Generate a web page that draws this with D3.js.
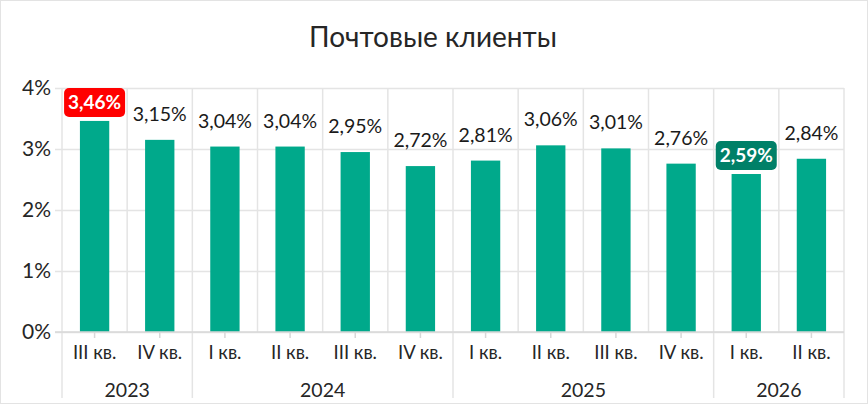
<!DOCTYPE html>
<html>
<head>
<meta charset="utf-8">
<script src="https://cdn.jsdelivr.net/npm/d3@7"></script>
<style>
  body { margin: 0; background: #fff; }
  svg { font-family: "Lato", "Inter", sans-serif; }
</style>
</head>
<body>
<svg id="chart"></svg>
<script>
const quarters = ["III кв.", "IV кв.", "I кв.", "II кв.", "III кв.", "IV кв.", "I кв.", "II кв.", "III кв.", "IV кв.", "I кв.", "II кв."];
const years = ["2023", "2023", "2024", "2024", "2024", "2024", "2025", "2025", "2025", "2025", "2026", "2026"];
const values = [3.46, 3.15, 3.04, 3.04, 2.95, 2.72, 2.81, 3.06, 3.01, 2.76, 2.59, 2.84];
const yTicks = [0, 1, 2, 3, 4];

const width = 868, height = 404;
const margin = {top: 88, right: 24, bottom: 72, left: 62};

const svg = d3.select("#chart")
    .attr("width", width)
    .attr("height", height);

// outer frame
svg.append("rect")
    .attr("x", 0.5).attr("y", 0.5)
    .attr("width", width - 1).attr("height", height - 1)
    .attr("fill", "none")
    .attr("stroke", "#e3e3e3");

const x = d3.scaleBand()
    .domain(d3.range(values.length))
    .range([margin.left, width - margin.right])
    .paddingInner(0.55)
    .paddingOuter(0.275);

const y = d3.scaleLinear()
    .domain([0, 4])
    .range([height - margin.bottom, margin.top]);

const step = x.step();
const left = margin.left, right = width - margin.right;
const base = y(0);

svg.append("text")
    .attr("x", width / 2 - 1)
    .attr("y", 47)
    .attr("text-anchor", "middle")
    .attr("font-size", "28px")
    .attr("fill", "#262626")
    .text("Почтовые клиенты");

// horizontal grid + y labels
svg.append("g")
    .attr("transform", "translate(" + left + ",0)")
    .call(d3.axisLeft(y).tickValues(yTicks).tickSize(-(right - left)).tickPadding(6).tickFormat(d => d + "%"))
    .call(g => g.select(".domain").remove())
    .call(g => g.selectAll(".tick line").attr("stroke", "#e4e4e4").attr("stroke-width", 1.5).attr("x1", -7))
    .call(g => g.selectAll(".tick text").attr("font-size", "21px").attr("fill", "#262626").attr("x", -11).attr("font-family", "Lato, sans-serif"));

// vertical category separators
const bounds = d3.range(values.length + 1).map(i => left + i * step);
svg.append("g").selectAll("line")
    .data(bounds)
    .enter().append("line")
    .attr("x1", d => d).attr("x2", d => d)
    .attr("y1", y(4))
    .attr("y2", (d, i) => (i === 0 || i === values.length || years[i] !== years[i - 1]) ? 398 : base)
    .attr("stroke", "#e4e4e4")
    .attr("stroke-width", 1.5);

// bars
svg.append("g").selectAll("rect")
    .data(values)
    .enter().append("rect")
    .attr("x", (d, i) => x(i))
    .attr("y", d => y(d))
    .attr("width", x.bandwidth())
    .attr("height", d => base - y(d))
    .attr("fill", "#00a98b");

// x axis
svg.append("g")
    .attr("transform", "translate(0," + base + ")")
    .call(d3.axisBottom(x).tickSize(6).tickPadding(8).tickFormat(i => quarters[i]))
    .call(g => g.select(".domain").attr("stroke", "#d8d8d8").attr("stroke-width", 1.5).attr("d", "M" + (left - 7) + ",0H" + right))
    .call(g => g.selectAll(".tick line").attr("stroke", "#d8d8d8").attr("stroke-width", 1.5))
    .call(g => g.selectAll(".tick text").attr("font-size", "18.5px").attr("fill", "#262626").attr("font-family", "Lato, sans-serif"));

// year labels
const groups = d3.groups(d3.range(values.length), i => years[i]);
svg.append("g").selectAll("text")
    .data(groups)
    .enter().append("text")
    .attr("x", d => (x(d[1][0]) + x(d[1][d[1].length - 1]) + x.bandwidth()) / 2)
    .attr("y", 397)
    .attr("text-anchor", "middle")
    .attr("font-size", "19.5px")
    .attr("fill", "#262626")
    .text(d => d[0]);

// value labels
const fmt = v => d3.format(".2f")(v).replace(".", ",") + "%";
const maxV = d3.max(values), minV = d3.min(values);
const boxed = d => d === maxV || d === minV;
const labels = svg.append("g").selectAll("g")
    .data(values)
    .enter().append("g")
    .attr("transform", (d, i) => "translate(" + (x(i) + x.bandwidth() / 2) + "," + y(d) + ")");

labels.filter(boxed).append("rect")
    .attr("x", -30.5).attr("y", -33)
    .attr("width", 61).attr("height", 29)
    .attr("rx", 5)
    .attr("fill", d => d === maxV ? "#ff0000" : "#008068");

labels.append("text")
    .attr("y", d => boxed(d) ? -12 : -19)
    .attr("text-anchor", "middle")
    .attr("font-size", d => boxed(d) ? "19px" : "19.5px")
    .attr("font-weight", d => boxed(d) ? "bold" : "normal")
    .attr("fill", d => boxed(d) ? "#fff" : "#1a1a1a")
    .text(fmt);
</script>
</body>
</html>
